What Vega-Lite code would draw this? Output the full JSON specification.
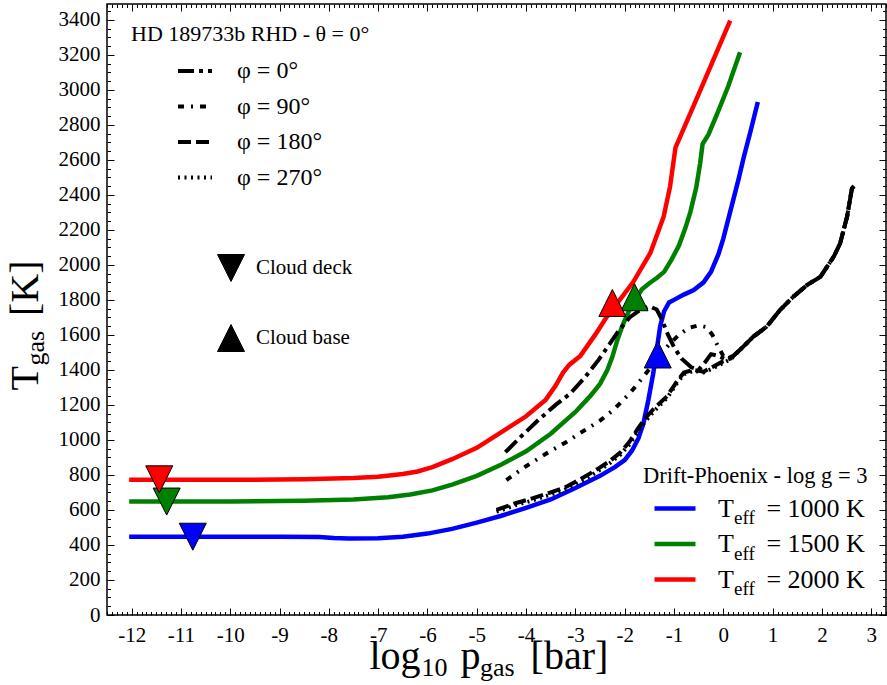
{
  "$schema": "https://vega.github.io/schema/vega-lite/v6.json",
  "width": 779,
  "height": 611,
  "autosize": {"type": "none"},
  "padding": {"left": 107, "top": 4, "right": 1, "bottom": 70},
  "background": "white",
  "datasets": {
    "profiles": [
      {"teff": "1000", "logp": -12.05, "T": 447}, {"teff": "1000", "logp": -11, "T": 447}, {"teff": "1000", "logp": -10, "T": 447},
      {"teff": "1000", "logp": -9, "T": 447}, {"teff": "1000", "logp": -8.2, "T": 446}, {"teff": "1000", "logp": -7.9, "T": 440},
      {"teff": "1000", "logp": -7.6, "T": 437}, {"teff": "1000", "logp": -7.0, "T": 439}, {"teff": "1000", "logp": -6.5, "T": 447},
      {"teff": "1000", "logp": -6.0, "T": 465}, {"teff": "1000", "logp": -5.5, "T": 492}, {"teff": "1000", "logp": -5.0, "T": 528},
      {"teff": "1000", "logp": -4.5, "T": 567}, {"teff": "1000", "logp": -4.0, "T": 612}, {"teff": "1000", "logp": -3.5, "T": 660},
      {"teff": "1000", "logp": -3.0, "T": 725}, {"teff": "1000", "logp": -2.5, "T": 795}, {"teff": "1000", "logp": -2.2, "T": 845},
      {"teff": "1000", "logp": -2.0, "T": 885}, {"teff": "1000", "logp": -1.85, "T": 940}, {"teff": "1000", "logp": -1.72, "T": 1010},
      {"teff": "1000", "logp": -1.62, "T": 1095}, {"teff": "1000", "logp": -1.52, "T": 1228}, {"teff": "1000", "logp": -1.42, "T": 1381},
      {"teff": "1000", "logp": -1.35, "T": 1514}, {"teff": "1000", "logp": -1.28, "T": 1650}, {"teff": "1000", "logp": -1.2, "T": 1735},
      {"teff": "1000", "logp": -1.1, "T": 1785}, {"teff": "1000", "logp": -1.0, "T": 1800}, {"teff": "1000", "logp": -0.8, "T": 1830},
      {"teff": "1000", "logp": -0.6, "T": 1856}, {"teff": "1000", "logp": -0.4, "T": 1900}, {"teff": "1000", "logp": -0.25, "T": 1960},
      {"teff": "1000", "logp": -0.1, "T": 2060}, {"teff": "1000", "logp": 0.0, "T": 2150}, {"teff": "1000", "logp": 0.1, "T": 2260},
      {"teff": "1000", "logp": 0.21, "T": 2380}, {"teff": "1000", "logp": 0.31, "T": 2490}, {"teff": "1000", "logp": 0.42, "T": 2620},
      {"teff": "1000", "logp": 0.55, "T": 2760}, {"teff": "1000", "logp": 0.70, "T": 2930},

      {"teff": "1500", "logp": -12.05, "T": 648}, {"teff": "1500", "logp": -10, "T": 648}, {"teff": "1500", "logp": -8.5, "T": 652},
      {"teff": "1500", "logp": -7.5, "T": 660}, {"teff": "1500", "logp": -6.8, "T": 672}, {"teff": "1500", "logp": -6.35, "T": 688},
      {"teff": "1500", "logp": -5.9, "T": 712}, {"teff": "1500", "logp": -5.5, "T": 745}, {"teff": "1500", "logp": -5.0, "T": 795},
      {"teff": "1500", "logp": -4.5, "T": 860}, {"teff": "1500", "logp": -4.0, "T": 935}, {"teff": "1500", "logp": -3.5, "T": 1035},
      {"teff": "1500", "logp": -3.0, "T": 1160}, {"teff": "1500", "logp": -2.7, "T": 1250}, {"teff": "1500", "logp": -2.5, "T": 1320},
      {"teff": "1500", "logp": -2.35, "T": 1400}, {"teff": "1500", "logp": -2.25, "T": 1475}, {"teff": "1500", "logp": -2.15, "T": 1570},
      {"teff": "1500", "logp": -2.05, "T": 1650}, {"teff": "1500", "logp": -1.95, "T": 1715}, {"teff": "1500", "logp": -1.8, "T": 1800},
      {"teff": "1500", "logp": -1.65, "T": 1860}, {"teff": "1500", "logp": -1.5, "T": 1895}, {"teff": "1500", "logp": -1.35, "T": 1925},
      {"teff": "1500", "logp": -1.2, "T": 1960}, {"teff": "1500", "logp": -1.05, "T": 2030}, {"teff": "1500", "logp": -0.9, "T": 2110},
      {"teff": "1500", "logp": -0.77, "T": 2210}, {"teff": "1500", "logp": -0.67, "T": 2300}, {"teff": "1500", "logp": -0.55, "T": 2440},
      {"teff": "1500", "logp": -0.47, "T": 2580}, {"teff": "1500", "logp": -0.42, "T": 2690}, {"teff": "1500", "logp": -0.3, "T": 2745},
      {"teff": "1500", "logp": -0.1, "T": 2880}, {"teff": "1500", "logp": 0.1, "T": 3020}, {"teff": "1500", "logp": 0.34, "T": 3215},

      {"teff": "2000", "logp": -12.05, "T": 772}, {"teff": "2000", "logp": -10, "T": 772}, {"teff": "2000", "logp": -8.5, "T": 775},
      {"teff": "2000", "logp": -7.5, "T": 782}, {"teff": "2000", "logp": -7.0, "T": 790}, {"teff": "2000", "logp": -6.5, "T": 805},
      {"teff": "2000", "logp": -6.2, "T": 820}, {"teff": "2000", "logp": -5.9, "T": 845}, {"teff": "2000", "logp": -5.5, "T": 890},
      {"teff": "2000", "logp": -5.0, "T": 955}, {"teff": "2000", "logp": -4.5, "T": 1045}, {"teff": "2000", "logp": -4.0, "T": 1135},
      {"teff": "2000", "logp": -3.6, "T": 1230}, {"teff": "2000", "logp": -3.4, "T": 1310}, {"teff": "2000", "logp": -3.25, "T": 1385},
      {"teff": "2000", "logp": -3.12, "T": 1430}, {"teff": "2000", "logp": -2.9, "T": 1480}, {"teff": "2000", "logp": -2.6, "T": 1600},
      {"teff": "2000", "logp": -2.36, "T": 1705}, {"teff": "2000", "logp": -2.1, "T": 1800}, {"teff": "2000", "logp": -1.83, "T": 1900},
      {"teff": "2000", "logp": -1.48, "T": 2068}, {"teff": "2000", "logp": -1.21, "T": 2275}, {"teff": "2000", "logp": -1.08, "T": 2447},
      {"teff": "2000", "logp": -0.97, "T": 2670}, {"teff": "2000", "logp": -0.5, "T": 2975}, {"teff": "2000", "logp": 0.14, "T": 3395}
    ],
    "phases": [
      {"phi": "0", "logp": -4.42, "T": 930}, {"phi": "0", "logp": -4.1, "T": 1020}, {"phi": "0", "logp": -3.75, "T": 1114},
      {"phi": "0", "logp": -3.4, "T": 1200}, {"phi": "0", "logp": -3.1, "T": 1266}, {"phi": "0", "logp": -2.8, "T": 1360},
      {"phi": "0", "logp": -2.53, "T": 1457}, {"phi": "0", "logp": -2.3, "T": 1550}, {"phi": "0", "logp": -2.16, "T": 1609},
      {"phi": "0", "logp": -1.9, "T": 1700}, {"phi": "0", "logp": -1.69, "T": 1742}, {"phi": "0", "logp": -1.5, "T": 1763},
      {"phi": "0", "logp": -1.35, "T": 1745}, {"phi": "0", "logp": -1.25, "T": 1690}, {"phi": "0", "logp": -1.12, "T": 1600},
      {"phi": "0", "logp": -1.0, "T": 1530}, {"phi": "0", "logp": -0.85, "T": 1465}, {"phi": "0", "logp": -0.65, "T": 1415},
      {"phi": "0", "logp": -0.5, "T": 1400}, {"phi": "0", "logp": -0.38, "T": 1440}, {"phi": "0", "logp": -0.25, "T": 1490},
      {"phi": "0", "logp": -0.1, "T": 1480}, {"phi": "0", "logp": 0.05, "T": 1460}, {"phi": "0", "logp": 0.2, "T": 1480},
      {"phi": "0", "logp": 0.34, "T": 1515}, {"phi": "0", "logp": 0.61, "T": 1590}, {"phi": "0", "logp": 0.88, "T": 1647},
      {"phi": "0", "logp": 1.15, "T": 1742}, {"phi": "0", "logp": 1.42, "T": 1818}, {"phi": "0", "logp": 1.7, "T": 1885},
      {"phi": "0", "logp": 1.97, "T": 1932}, {"phi": "0", "logp": 2.24, "T": 2047}, {"phi": "0", "logp": 2.37, "T": 2123},
      {"phi": "0", "logp": 2.51, "T": 2275}, {"phi": "0", "logp": 2.61, "T": 2437}, {"phi": "0", "logp": 2.65, "T": 2450},

      {"phi": "90", "logp": -4.4, "T": 771}, {"phi": "90", "logp": -4.0, "T": 850}, {"phi": "90", "logp": -3.58, "T": 924},
      {"phi": "90", "logp": -3.2, "T": 985}, {"phi": "90", "logp": -2.9, "T": 1040}, {"phi": "90", "logp": -2.5, "T": 1110},
      {"phi": "90", "logp": -2.23, "T": 1171}, {"phi": "90", "logp": -1.9, "T": 1265}, {"phi": "90", "logp": -1.62, "T": 1361},
      {"phi": "90", "logp": -1.35, "T": 1460}, {"phi": "90", "logp": -1.1, "T": 1545}, {"phi": "90", "logp": -0.9, "T": 1600},
      {"phi": "90", "logp": -0.7, "T": 1640}, {"phi": "90", "logp": -0.5, "T": 1655}, {"phi": "90", "logp": -0.35, "T": 1645},
      {"phi": "90", "logp": -0.22, "T": 1600}, {"phi": "90", "logp": -0.1, "T": 1530}, {"phi": "90", "logp": 0.0, "T": 1480},
      {"phi": "90", "logp": 0.15, "T": 1470}, {"phi": "90", "logp": 0.34, "T": 1515}, {"phi": "90", "logp": 0.61, "T": 1590},
      {"phi": "90", "logp": 0.88, "T": 1647}, {"phi": "90", "logp": 1.15, "T": 1742}, {"phi": "90", "logp": 1.42, "T": 1818},
      {"phi": "90", "logp": 1.7, "T": 1885}, {"phi": "90", "logp": 1.97, "T": 1932}, {"phi": "90", "logp": 2.24, "T": 2047},
      {"phi": "90", "logp": 2.37, "T": 2123}, {"phi": "90", "logp": 2.51, "T": 2275}, {"phi": "90", "logp": 2.61, "T": 2437},
      {"phi": "90", "logp": 2.65, "T": 2450},

      {"phi": "180", "logp": -4.6, "T": 600}, {"phi": "180", "logp": -4.2, "T": 640}, {"phi": "180", "logp": -3.92, "T": 662},
      {"phi": "180", "logp": -3.5, "T": 700}, {"phi": "180", "logp": -3.24, "T": 725}, {"phi": "180", "logp": -2.9, "T": 775},
      {"phi": "180", "logp": -2.56, "T": 832}, {"phi": "180", "logp": -2.3, "T": 880}, {"phi": "180", "logp": -2.09, "T": 928},
      {"phi": "180", "logp": -1.9, "T": 990}, {"phi": "180", "logp": -1.75, "T": 1057}, {"phi": "180", "logp": -1.6, "T": 1118},
      {"phi": "180", "logp": -1.42, "T": 1175}, {"phi": "180", "logp": -1.14, "T": 1250}, {"phi": "180", "logp": -0.95, "T": 1330},
      {"phi": "180", "logp": -0.8, "T": 1385}, {"phi": "180", "logp": -0.6, "T": 1400}, {"phi": "180", "logp": -0.4, "T": 1390},
      {"phi": "180", "logp": -0.2, "T": 1420}, {"phi": "180", "logp": 0.0, "T": 1450}, {"phi": "180", "logp": 0.15, "T": 1465},
      {"phi": "180", "logp": 0.34, "T": 1515}, {"phi": "180", "logp": 0.61, "T": 1590}, {"phi": "180", "logp": 0.88, "T": 1647},
      {"phi": "180", "logp": 1.15, "T": 1742}, {"phi": "180", "logp": 1.42, "T": 1818}, {"phi": "180", "logp": 1.7, "T": 1885},
      {"phi": "180", "logp": 1.97, "T": 1932}, {"phi": "180", "logp": 2.24, "T": 2047}, {"phi": "180", "logp": 2.37, "T": 2123},
      {"phi": "180", "logp": 2.51, "T": 2275}, {"phi": "180", "logp": 2.61, "T": 2437}, {"phi": "180", "logp": 2.65, "T": 2450},

      {"phi": "270", "logp": -4.6, "T": 590}, {"phi": "270", "logp": -4.2, "T": 628}, {"phi": "270", "logp": -3.92, "T": 650},
      {"phi": "270", "logp": -3.5, "T": 688}, {"phi": "270", "logp": -3.24, "T": 712}, {"phi": "270", "logp": -2.9, "T": 760},
      {"phi": "270", "logp": -2.56, "T": 818}, {"phi": "270", "logp": -2.3, "T": 868}, {"phi": "270", "logp": -2.09, "T": 915},
      {"phi": "270", "logp": -1.9, "T": 975}, {"phi": "270", "logp": -1.75, "T": 1040}, {"phi": "270", "logp": -1.6, "T": 1100},
      {"phi": "270", "logp": -1.42, "T": 1160}, {"phi": "270", "logp": -1.14, "T": 1240}, {"phi": "270", "logp": -0.95, "T": 1320},
      {"phi": "270", "logp": -0.8, "T": 1375}, {"phi": "270", "logp": -0.6, "T": 1395}, {"phi": "270", "logp": -0.4, "T": 1385},
      {"phi": "270", "logp": -0.2, "T": 1410}, {"phi": "270", "logp": 0.0, "T": 1440}, {"phi": "270", "logp": 0.15, "T": 1460},
      {"phi": "270", "logp": 0.34, "T": 1515}, {"phi": "270", "logp": 0.61, "T": 1590}, {"phi": "270", "logp": 0.88, "T": 1647},
      {"phi": "270", "logp": 1.15, "T": 1742}, {"phi": "270", "logp": 1.42, "T": 1818}, {"phi": "270", "logp": 1.7, "T": 1885},
      {"phi": "270", "logp": 1.97, "T": 1932}, {"phi": "270", "logp": 2.24, "T": 2047}, {"phi": "270", "logp": 2.37, "T": 2123},
      {"phi": "270", "logp": 2.51, "T": 2275}, {"phi": "270", "logp": 2.61, "T": 2437}, {"phi": "270", "logp": 2.65, "T": 2450}
    ],
    "clouds": [
      {"teff": "1000", "kind": "deck", "logp": -10.76, "T": 447},
      {"teff": "1500", "kind": "deck", "logp": -11.29, "T": 648},
      {"teff": "2000", "kind": "deck", "logp": -11.44, "T": 775},
      {"teff": "1000", "kind": "base", "logp": -1.33, "T": 1488},
      {"teff": "1500", "kind": "base", "logp": -1.8, "T": 1815},
      {"teff": "2000", "kind": "base", "logp": -2.25, "T": 1782}
    ]
  },
  "layer": [
    {
      "data": {"name": "profiles"},
      "mark": {"type": "line", "strokeWidth": 4.5, "strokeCap": "butt"},
      "encoding": {
        "x": {
          "field": "logp", "type": "quantitative",
          "scale": {"domain": [-12.5, 3.3], "nice": false, "zero": false},
          "axis": {
            "orient": "bottom", "tickCount": 160,
            "tickSize": {"condition": {"test": "abs(datum.value - round(datum.value)) < 0.001", "value": -7}, "value": -3.5},
            "labelExpr": "abs(datum.value - round(datum.value)) < 0.001 ? '' + round(datum.value) : ''",
            "labelFontSize": 21, "labelPadding": 16, "labelOverlap": false, "labelFlush": false,
            "title": "log\u00a0\u00a0\u00a0\u00a0p\u00a0\u00a0\u00a0\u00a0\u00a0[bar]",
            "titleFontSize": 40, "titleX": 262, "titleY": 53, "titleAlign": "left", "titleBaseline": "alphabetic", "titleAnchor": null
          }
        },
        "y": {
          "field": "T", "type": "quantitative",
          "scale": {"domain": [0, 3490], "nice": false, "zero": false},
          "axis": {
            "orient": "left", "tickCount": 70,
            "tickSize": {"condition": {"test": "datum.value % 200 == 0", "value": -7}, "value": -3.5},
            "labelExpr": "datum.value % 200 == 0 ? '' + datum.value : ''",
            "labelFontSize": 21, "labelPadding": 14, "labelOverlap": false, "labelFlush": false,
            "title": "T\u00a0\u00a0\u00a0\u00a0\u00a0[K]",
            "titleFontSize": 40, "titleAngle": -90, "titleX": -70, "titleY": 386, "titleAlign": "left", "titleBaseline": "alphabetic", "titleAnchor": null
          }
        },
        "color": {
          "field": "teff", "type": "nominal",
          "scale": {"domain": ["1000", "1500", "2000"], "range": ["#0000ff", "#008000", "#ff0000"]},
          "legend": {
            "orient": "none", "legendX": 536, "legendY": 461,
            "title": "Drift-Phoenix - log g = 3", "titleFontSize": 22.5, "titleLimit": 400, "titlePadding": 6,
            "labelExpr": "'T\u00a0\u00a0\u00a0\u00a0\u00a0= ' + datum.label + ' K'",
            "labelFontSize": 26, "labelLimit": 400,
            "symbolType": "stroke", "symbolSize": 1681, "symbolStrokeWidth": 4.5,
            "symbolOffset": 9, "labelOffset": 20, "clipHeight": 30, "rowPadding": 5.5
          }
        }
      }
    },
    {
      "data": {"name": "phases"},
      "mark": {"type": "line", "strokeWidth": 4, "color": "black", "strokeCap": "butt"},
      "encoding": {
        "x": {
          "field": "logp", "type": "quantitative",
          "axis": {
            "orient": "bottom", "ticks": false, "labels": false, "domain": false,
            "title": "10\u00a0\u00a0\u00a0\u00a0\u00a0gas", "titleFontSize": 26,
            "titleX": 314, "titleY": 60, "titleAlign": "left", "titleBaseline": "alphabetic", "titleAnchor": null
          }
        },
        "y": {
          "field": "T", "type": "quantitative",
          "axis": {
            "orient": "left", "ticks": false, "labels": false, "domain": false,
            "title": "gas", "titleFontSize": 26, "titleAngle": -90,
            "titleX": -64, "titleY": 361, "titleAlign": "left", "titleBaseline": "alphabetic", "titleAnchor": null
          }
        },
        "strokeDash": {
          "field": "phi", "type": "nominal",
          "scale": {"domain": ["0", "90", "180", "270"], "range": [[16, 5, 4, 5], [6, 7, 2, 7], [13, 5], [2, 4.5]]},
          "legend": {
            "orient": "none", "legendX": 24, "legendY": 20,
            "title": "HD 189733b RHD - θ = 0°", "titleFontSize": 22, "titleLimit": 400, "titlePadding": 9,
            "labelExpr": "'φ = ' + datum.label + '°'", "labelFontSize": 24, "labelLimit": 300,
            "symbolType": "stroke", "symbolSize": 1156, "symbolStrokeWidth": 4, "symbolStrokeColor": "black",
            "symbolOffset": 45, "labelOffset": 23, "clipHeight": 32, "rowPadding": 3.5
          }
        }
      }
    },
    {
      "data": {"name": "clouds"},
      "mark": {"type": "point", "filled": true, "size": 729, "stroke": "black", "strokeWidth": 1, "opacity": 1},
      "encoding": {
        "x": {
          "field": "logp", "type": "quantitative",
          "axis": {
            "orient": "top", "tickCount": 160, "labels": false, "domain": false, "title": null,
            "tickSize": {"condition": {"test": "abs(datum.value - round(datum.value)) < 0.001", "value": -7}, "value": -3.5}
          }
        },
        "y": {
          "field": "T", "type": "quantitative",
          "axis": {
            "orient": "right", "tickCount": 70, "labels": false, "domain": false, "title": null,
            "tickSize": {"condition": {"test": "datum.value % 200 == 0", "value": -7}, "value": -3.5}
          }
        },
        "shape": {
          "field": "kind", "type": "nominal",
          "scale": {"domain": ["deck", "base"], "range": ["M-1,-1L1,-1L0,1Z", "M0,-1L1,1L-1,1Z"]},
          "legend": {
            "orient": "none", "legendX": 110, "legendY": 249, "title": null,
            "labelExpr": "datum.label == 'deck' ? 'Cloud deck' : 'Cloud base'",
            "labelFontSize": 21, "labelLimit": 300,
            "symbolSize": 729, "symbolFillColor": "black", "symbolStrokeColor": "black", "symbolStrokeWidth": 1,
            "symbolOffset": 0, "labelOffset": 11, "clipHeight": 30, "rowPadding": 40
          }
        },
        "fill": {
          "field": "teff", "type": "nominal",
          "scale": {"range": ["#0000ff", "#008000", "#ff0000"]},
          "legend": {
            "orient": "none", "legendX": 536, "legendY": 499, "title": null,
            "labelExpr": "'eff'", "labelFontSize": 19, "symbolOpacity": 0, "symbolSize": 1681, "symbolStrokeWidth": 0,
            "symbolOffset": 9, "labelOffset": 41, "clipHeight": 30, "rowPadding": 5.5
          }
        }
      }
    }
  ],
  "resolve": {"axis": {"x": "independent", "y": "independent"}},
  "config": {
    "font": "Liberation Serif",
    "view": {"stroke": "black", "strokeWidth": 1.5},
    "axis": {
      "grid": false, "domain": false, "tickColor": "black", "tickWidth": 1,
      "labelColor": "black", "titleColor": "black", "titleFontWeight": "normal",
      "labelFont": "Liberation Serif", "titleFont": "Liberation Serif"
    },
    "legend": {
      "labelColor": "black", "titleColor": "black", "titleFontWeight": "normal",
      "labelFont": "Liberation Serif", "titleFont": "Liberation Serif", "padding": 0
    }
  }
}
